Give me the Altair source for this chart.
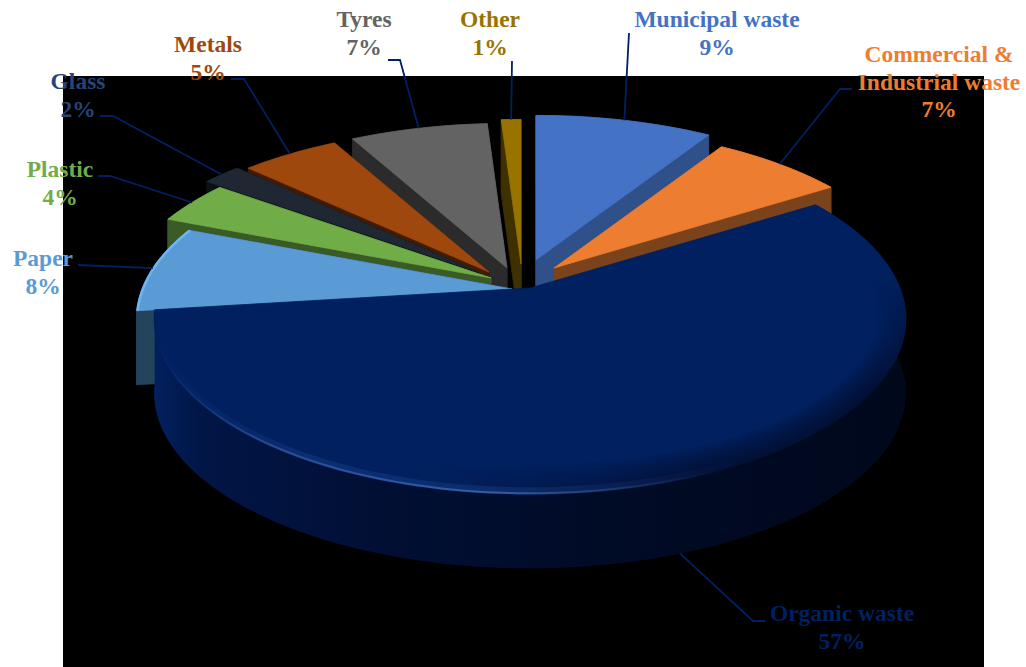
import math
import altair as alt

# Waste composition, in percent of the total, clockwise from twelve o'clock
categories = ["Municipal waste", "Commercial & Industrial waste", "Organic waste", "Paper",
              "Plastic", "Glass", "Metals", "Tyres", "Other"]
values = [9, 7, 57, 8, 4, 2, 5, 7, 1]

top_colors = ["#4472c4", "#ed7d31", "#002060", "#5b9bd5", "#70ad47", "#1f2733", "#9e480e", "#636363", "#997300"]
wall_colors = ["#2f5089", "#7a431c", "#001440", "#24445c", "#3a5a26", "#0b0f16", "#3f1d05", "#2b2b2b", "#3f3000"]
label_colors = ["#4472c4", "#ed7d31", "#002060", "#5b9bd5", "#70ad47", "#264478", "#9e480e", "#636363", "#997300"]

label_lines = [["Municipal waste", "9%"], ["Commercial &", "Industrial waste", "7%"], ["Organic waste", "57%"],
               ["Paper", "8%"], ["Plastic", "4%"], ["Glass", "2%"], ["Metals", "5%"], ["Tyres", "7%"], ["Other", "1%"]]

# Layout of the tilted pie: ellipse axes, perspective strength and thickness
AX, BY, PERSP, DEPTH = 370.0, 170.0, 0.176, 74.0
apex = [(536, 260), (554, 268), (530, 288), (512, 289), (491, 278), (478, 272), (489, 272), (507, 268), (521, 264)]
reach = [1.0, 0.97, 1.0, 1.0, 1.0, 1.0, 1.0, 1.0, 1.0]
label_centers = [(717, 20), (939, 55), (842, 614), (43, 259), (60, 170), (78, 82), (208, 45), (364, 20), (490, 20)]
LINE_STEP = 27.5
leader_starts = [[(629, 33)], [(852, 89), (840, 89)], [(765, 621), (753, 621)], [(78, 265)], [(98, 176), (110, 176)],
                 [(100, 116), (113, 116)], [(231, 79), (244, 79)], [(388, 60), (400, 60)], [(512, 61)]]
paint_order = [8, 7, 6, 5, 4, 0, 1, 3]  # back to front; the large slice goes on last
ORGANIC = 2

starts, run = [], 0
for v in values:
    starts.append(run * 3.6)
    run += v
ends = [s + v * 3.6 for s, v in zip(starts, values)]


def rim(i, deg, drop=0.0, inset=0.0):
    t = math.radians(deg)
    d = 1 + PERSP * math.cos(t)
    dx = reach[i] * AX * math.sin(t) / d
    dy = -reach[i] * BY * math.cos(t) / d
    f = 1 - inset / math.hypot(dx, dy)
    return (apex[i][0] + dx * f, apex[i][1] + dy * f + drop)


def arc(i, a, b, drop=0.0, inset=0.0):
    n = max(2, int(abs(b - a)) + 1)
    return [rim(i, a + (b - a) * k / n, drop, inset) for k in range(n + 1)]


def polygon(points, fill):
    ring = [list(p) for p in points]
    ring.append(ring[0])
    return {"type": "Feature", "properties": {"fill": fill}, "geometry": {"type": "Polygon", "coordinates": [ring]}}


def slice_walls(i):
    top = arc(i, starts[i], ends[i])
    low = arc(i, starts[i], ends[i], DEPTH)
    c = wall_colors[i]
    ax, ay = apex[i]
    return [
        polygon(top + low[::-1], c),
        polygon([(ax, ay), top[0], low[0], (ax, ay + DEPTH)], c),
        polygon([(ax, ay), top[-1], low[-1], (ax, ay + DEPTH)], c),
    ]


def slice_top(i):
    return polygon([apex[i]] + arc(i, starts[i], ends[i]), top_colors[i])


back = []
for i in paint_order:
    back += slice_walls(i)
    back.append(slice_top(i))

MAP = dict(type="identity", scale=1, translate=[0, 0])
X = alt.X("x:Q", axis=None, scale=alt.Scale(domain=[0, 1026], range=[0, 1026], nice=False, zero=False))
Y = alt.Y("y:Q", axis=None, scale=alt.Scale(domain=[0, 667], range=[0, 667], nice=False, zero=False))

backdrop = alt.Chart(alt.Data(values=[{"x": 63, "x2": 984, "y": 76, "y2": 667}])).mark_rect(color="#000000").encode(
    x=X, x2="x2:Q", y=Y, y2="y2:Q")


def shapes(features):
    return alt.Chart(alt.Data(values=features)).mark_geoshape(strokeWidth=0.8, strokeJoin="round").encode(
        fill=alt.Fill("properties.fill:N", scale=None),
        stroke=alt.Stroke("properties.fill:N", scale=None),
    ).project(**MAP)


back_layer = shapes(back)

# Front rim of the large slice, shaded from left to right
rim_top = arc(ORGANIC, starts[ORGANIC], ends[ORGANIC])
rim_low = arc(ORGANIC, starts[ORGANIC], ends[ORGANIC], DEPTH)
rim_fill = alt.Gradient(gradient="linear", x1=0, x2=1, y1=0, y2=0, stops=[
    alt.GradientStop(color="#02205f", offset=0),
    alt.GradientStop(color="#011646", offset=0.06),
    alt.GradientStop(color="#010f34", offset=0.3),
    alt.GradientStop(color="#000b26", offset=0.6),
    alt.GradientStop(color="#00081c", offset=1),
])
rim_layer = alt.Chart(alt.Data(values=[polygon(rim_top + rim_low[::-1], "rim")])).mark_geoshape(
    fill=rim_fill, stroke=None, strokeWidth=0).project(**MAP)
organic_layer = shapes([slice_top(ORGANIC)])


def stroke_arc(i, a, b, paint, width, inset=0.0):
    pts = [{"x": x, "y": y, "k": k} for k, (x, y) in enumerate(arc(i, a, b, 0.0, inset))]
    return alt.Chart(alt.Data(values=pts)).mark_line(stroke=paint, strokeWidth=width, strokeCap="butt").encode(
        x=X, y=Y, order="k:Q")


def horizontal(*stops):
    return alt.Gradient(gradient="linear", x1=0, x2=1, y1=0, y2=0,
                        stops=[alt.GradientStop(color=c, offset=o) for o, c in stops])


# Soft bevel where the top face of the large slice meets its rim; the strokes stay inside the face
# and fade towards both ends of a diagonal running from upper right to lower left
shade = alt.Gradient(gradient="linear", x1=1, y1=0, x2=0, y2=1, stops=[
    alt.GradientStop(color="rgba(0,8,30,0)", offset=0),
    alt.GradientStop(color="rgba(0,8,30,0.12)", offset=0.3),
    alt.GradientStop(color="rgba(0,8,30,0.12)", offset=0.65),
    alt.GradientStop(color="rgba(0,8,30,0)", offset=0.95),
    alt.GradientStop(color="rgba(0,8,30,0)", offset=1),
])
glow_wide = horizontal((0, "rgba(60,105,190,0)"), (0.2, "rgba(60,105,190,0.18)"), (0.5, "rgba(60,105,190,0.18)"),
                       (0.8, "rgba(60,105,190,0)"), (1, "rgba(60,105,190,0)"))
glow_thin = horizontal((0, "rgba(80,125,205,0)"), (0.15, "rgba(80,125,205,0.4)"), (0.45, "rgba(80,125,205,0.6)"),
                       (0.75, "rgba(80,125,205,0)"), (1, "rgba(80,125,205,0)"))
bevel = [stroke_arc(ORGANIC, 85, 200, shade, w, w / 2) for w in (30, 26, 22, 18, 14, 10, 6, 3)]
bevel += [stroke_arc(ORGANIC, 110, 258, glow_wide, 7, 3.5), stroke_arc(ORGANIC, 110, 258, glow_thin, 2, 1)]

# Lit edge along the outer side of the paper slice
paper_edge = stroke_arc(3, starts[3], ends[3], "#6cb4f2", 2.5, 1)

# Leader lines run from each label to the outer edge of its slice
leader_rows, text_rows = [], []
for i, cat in enumerate(categories):
    mid = (starts[i] + ends[i]) / 2
    drop = DEPTH if i == ORGANIC else 0.0
    path = list(leader_starts[i]) + [rim(i, mid, drop)]
    for k, (x, y) in enumerate(path):
        leader_rows.append({"x": x, "y": y, "k": k, "name": cat})
    cx, cy = label_centers[i]
    for n, line in enumerate(label_lines[i]):
        text_rows.append({"x": cx, "y": cy + n * LINE_STEP, "text": line, "color": label_colors[i]})

leaders = alt.Chart(alt.Data(values=leader_rows)).mark_line(color="#002060", strokeWidth=1.8).encode(
    x=X, y=Y, detail="name:N", order="k:Q")
labels = alt.Chart(alt.Data(values=text_rows)).mark_text(
    font="Liberation Serif", fontWeight="bold", fontSize=23.5, align="center", baseline="middle"
).encode(x=X, y=Y, text="text:N", color=alt.Color("color:N", scale=None))

chart = alt.layer(
    backdrop, back_layer, paper_edge, rim_layer, organic_layer, *bevel, leaders, labels
).properties(width=1026, height=667, padding=0, background="#ffffff").configure_view(stroke=None)

chart.save("out.html", embed_options={"renderer": "svg", "actions": False})
